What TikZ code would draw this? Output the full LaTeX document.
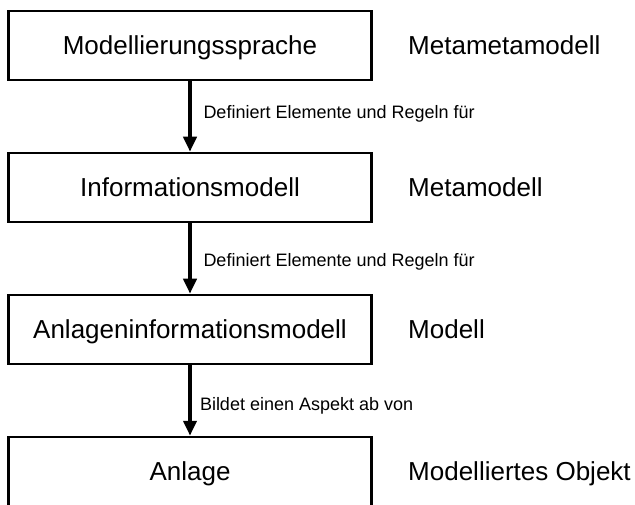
\documentclass[tikz,border=0pt]{standalone}
\usepackage{fontspec}
\setmainfont{Liberation Sans}
\usetikzlibrary{arrows.meta}
\begin{document}
\begin{tikzpicture}[x=1pt,y=-1pt,
  level/.style={draw, line width=2.5pt, minimum width=363pt, minimum height=69pt,
    inner sep=0pt, text height=18.6pt, text depth=0pt,
    font=\fontsize{26}{30}\selectfont},
  role/.style={anchor=west, inner sep=0pt, text height=18.6pt, text depth=0pt,
    font=\fontsize{26}{30}\selectfont},
  relation/.style={line width=4pt, -{Triangle[length=15pt,width=13pt]}},
  rellabel/.style={anchor=west, inner sep=0pt, text height=12.9pt, text depth=0pt,
    font=\fontsize{18}{22}\selectfont}]
\useasboundingbox (0,0) rectangle (635,505);

% the four modelling levels
\node[level] (lang)  at (190,45.5)  {Modellierungssprache};
\node[level] (info)  at (190,187.5) {Informationsmodell};
\node[level] (plantinfo) at (190,329.5) {Anlageninformationsmodell};
\node[level] (plant) at (190,471.5) {Anlage};

% classification of each level
\node[role] (r1) at (408,45.5)  {Metametamodell};
\node[role] (r2) at (408,187.5) {Metamodell};
\node[role] (r3) at (408,329.5) {Modell};
\node[role] (r4) at (408,471.5) {Modelliertes Objekt};

% relations between the levels
\draw[relation] (lang.south) -- node[rellabel, pos=0.44, xshift=11.5pt] (l1) {Definiert Elemente und Regeln für} (info.north);
\draw[relation] (info.south) -- node[rellabel, pos=0.52, xshift=11.5pt] (l2) {Definiert Elemente und Regeln für} (plantinfo.north);
\draw[relation] (plantinfo.south) -- node[rellabel, pos=0.55, xshift=8pt] (l3) {Bildet einen Aspekt ab von} (plant.north);
\end{tikzpicture}
\end{document}
